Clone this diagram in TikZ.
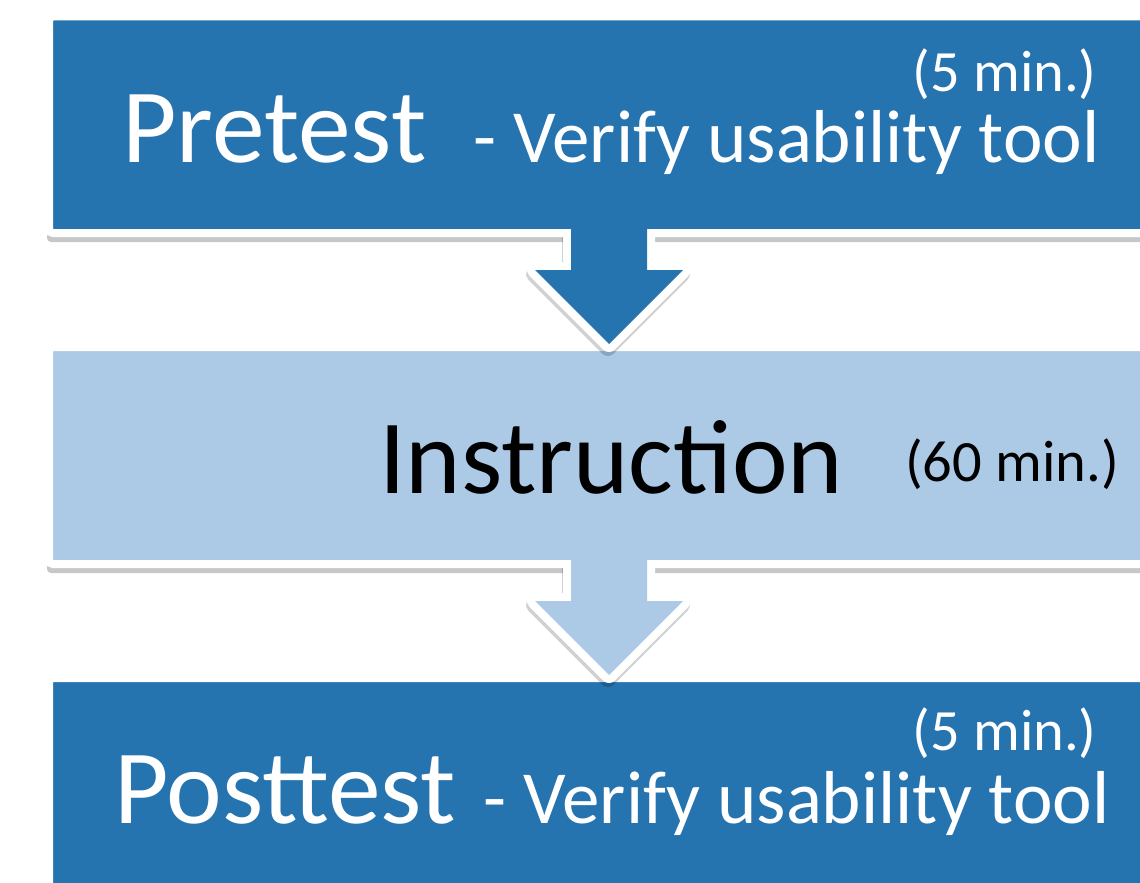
\documentclass[tikz,border=0pt]{standalone}
\usepackage{fontspec}
\setmainfont{Carlito}
\usetikzlibrary{shadows}

\definecolor{stagedark}{RGB}{37,115,175}
\definecolor{stagelight}{RGB}{172,201,229}

\begin{document}
\begin{tikzpicture}[x=1pt, y=-1pt,
    stage/.style={rectangle, draw=white, line width=8pt, rounded corners=4pt,
                  inner sep=0pt, minimum width=1116pt,
                  drop shadow={shadow xshift=-2pt, shadow yshift=-9pt,
                               opacity=0.22, fill=black}},
    outline/.style={white, line width=16pt, line join=round},
    arrowshade/.style={black, opacity=0.18, line width=16pt, line join=round},
    title/.style={font=\fontsize{105.5}{112}\selectfont},
    subtitle/.style={font=\fontsize{75}{82}\selectfont},
    note/.style={font=\fontsize{58.5}{64}\selectfont}
]
    \useasboundingbox (0,0) rectangle (1140,883);
    \clip (0,0) rectangle (1140,883);
    \fill[white] (0,0) rectangle (1140,883);

    % === Stage boxes ===
    \node[stage, fill=stagedark, minimum height=216.5pt] (pre) at (607,124.75) {};
    \node[stage, fill=stagelight, minimum height=217pt] (ins) at (607,455.5) {};
    \node[stage, fill=stagedark, minimum height=300pt] (post) at (607,828) {};

    % === Arrow: pretest -> instruction ===
    \draw[arrowshade, shift={(-1,4)}] (571,233) -- (571,270) -- (535,270)
        -- (609,344) -- (683,270) -- (647,270) -- (647,233);
    \draw[outline] (571,229) -- (571,270) -- (535,270) -- (609,344)
        -- (683,270) -- (647,270) -- (647,229);
    \fill[stagedark] (571,225) -- (571,270) -- (535,270) -- (609,344)
        -- (683,270) -- (647,270) -- (647,225) -- cycle;

    % === Arrow: instruction -> posttest ===
    \draw[arrowshade, shift={(-1,4)}] (571,564) -- (571,601) -- (535,601)
        -- (609,675) -- (683,601) -- (647,601) -- (647,564);
    \draw[outline] (571,560) -- (571,601) -- (535,601) -- (609,675)
        -- (683,601) -- (647,601) -- (647,560);
    \fill[stagelight] (571,556) -- (571,601) -- (535,601) -- (609,675)
        -- (683,601) -- (647,601) -- (647,556) -- cycle;

    % === Labels ===
    \node[title, white, anchor=base west, inner sep=0pt] (pretitle) at (122,162) {Pretest};
    \node[subtitle, white, anchor=base east, inner sep=0pt] (pretask) at (1100,162) {- Verify usability tool};
    \node[note, white, anchor=base east, inner sep=0pt] (pretime) at (1097,92) {(5 min.)};

    \node[title, black, anchor=base west, inner sep=0pt] (institle) at (379,493) {Instruction};
    \node[note, black, anchor=base east, inner sep=0pt] (instime) at (1119,481) {(60 min.)};

    \node[title, white, anchor=base west, inner sep=0pt] (posttitle) at (114,823) {Posttest};
    \node[subtitle, white, anchor=base east, inner sep=0pt] (posttask) at (1110,823) {- Verify usability tool};
    \node[note, white, anchor=base east, inner sep=0pt] (posttime) at (1097,750) {(5 min.)};
\end{tikzpicture}
\end{document}
